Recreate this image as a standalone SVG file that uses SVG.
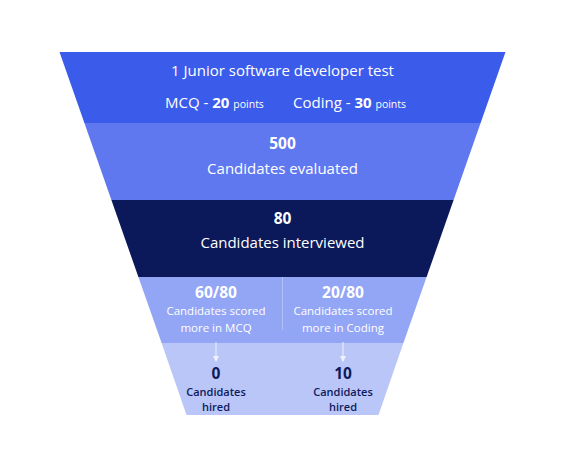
<svg xmlns="http://www.w3.org/2000/svg" width="565" height="466" viewBox="0 0 565 466">
<defs>
<style>
text{font-family:"Open Sans","Liberation Sans",sans-serif;text-anchor:middle}
.w{fill:#ffffff}
.d{fill:#0d1a5c}
.t{font-size:15px}
.b{font-size:15.5px;font-weight:700}
.s{font-size:11.5px}
.h{font-size:11px;font-weight:600}
.p{font-size:10.5px}
.arrow{stroke:#eef1ff;stroke-width:1;fill:none}
</style>
<marker id="ah" viewBox="0 0 6 6" refX="5" refY="3" markerWidth="6" markerHeight="6" orient="auto" markerUnits="userSpaceOnUse">
<path d="M0,0 L6,3 L0,6 Z" fill="#eef1ff"/>
</marker>
</defs>
<rect width="565" height="466" fill="#ffffff"/>
<g id="band1">
<polygon points="59.5,52 505.5,52 480.6,123 84.4,123" fill="#3b5beb"/>
<text class="w t" x="282.5" y="76">1 Junior software developer test</text>
<text class="w t" x="165" y="108" style="text-anchor:start">MCQ - <tspan font-weight="700">20</tspan> <tspan class="p">points</tspan></text>
<text class="w t" x="293" y="108" style="text-anchor:start">Coding - <tspan font-weight="700">30</tspan> <tspan class="p">points</tspan></text>
</g>
<g id="band2">
<polygon points="84.4,123 480.6,123 453.6,200 111.4,200" fill="#5f78f0"/>
<text class="w b" x="282.5" y="149">500</text>
<text class="w t" x="282.5" y="174">Candidates evaluated</text>
</g>
<g id="band3">
<polygon points="111.4,200 453.6,200 426.6,277 138.4,277" fill="#0b185a"/>
<text class="w b" x="282.5" y="224">80</text>
<text class="w t" x="282.5" y="248">Candidates interviewed</text>
</g>
<g id="band4">
<polygon points="138.4,277 426.6,277 403.4,343 161.6,343" fill="#93a5f5"/>
<line x1="282.5" y1="277" x2="282.5" y2="330" stroke="#b3c0f8" stroke-width="1"/>
</g>
<g id="group-mcq">
<text class="w b" x="216" y="298">60/80</text>
<text class="w s" x="216" y="315">Candidates scored</text>
<text class="w s" x="216" y="332">more in MCQ</text>
</g>
<g id="group-coding">
<text class="w b" x="343" y="298">20/80</text>
<text class="w s" x="343" y="315">Candidates scored</text>
<text class="w s" x="343" y="332">more in Coding</text>
</g>
<g id="band5">
<polygon points="161.6,343 403.4,343 378.5,415 186.5,415" fill="#bac6f8"/>
</g>
<g id="hired-mcq">
<text class="d b" x="216" y="379">0</text>
<text class="d h" x="216" y="395.5">Candidates</text>
<text class="d h" x="216" y="410.5">hired</text>
</g>
<g id="hired-coding">
<text class="d b" x="343" y="379">10</text>
<text class="d h" x="343" y="395.5">Candidates</text>
<text class="d h" x="343" y="410.5">hired</text>
</g>
<g id="connectors">
<line class="arrow" x1="216" y1="342" x2="216" y2="361" marker-end="url(#ah)"/>
<line class="arrow" x1="343" y1="342" x2="343" y2="361" marker-end="url(#ah)"/>
</g>
</svg>
